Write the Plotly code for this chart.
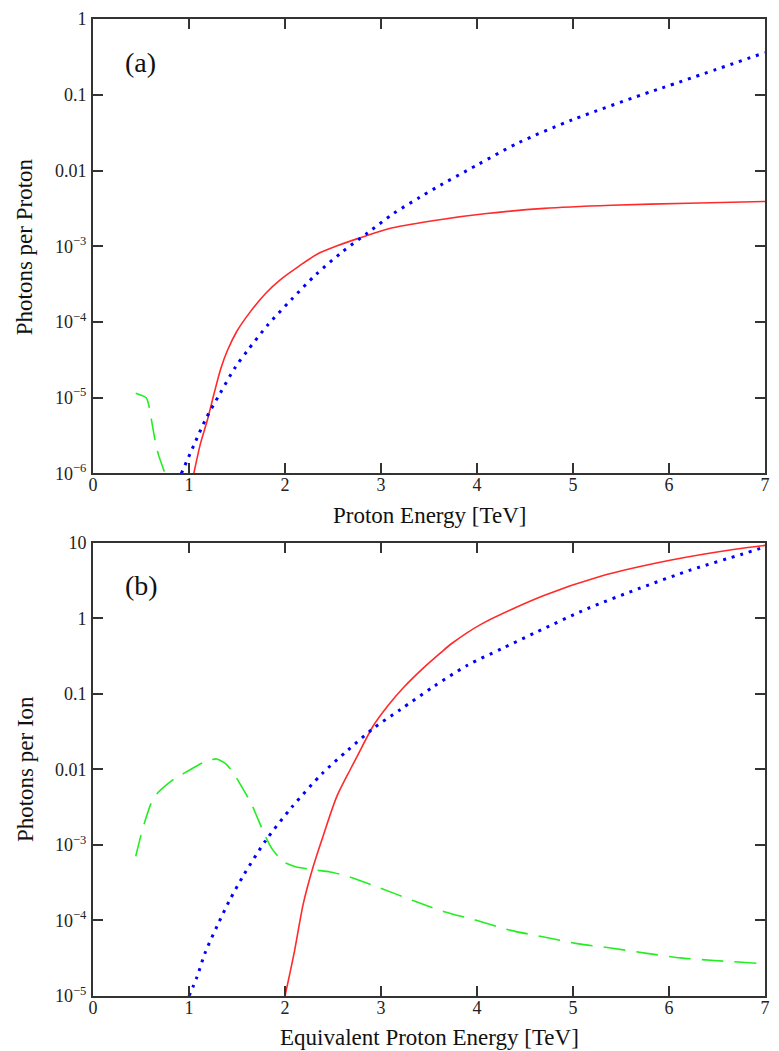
import plotly.graph_objects as go

# ---------------- Panel (a): photons per proton ----------------
a_red_x = [1.05, 1.12, 1.19, 1.26, 1.33, 1.40, 1.50, 1.63, 1.80, 1.95, 2.15, 2.33, 2.55, 2.78,
           3.12, 3.61, 4.10, 4.70, 5.40, 6.20, 7.00]
a_red_y = [1.0e-6, 2.5e-6, 5.0e-6, 1.12e-5, 2.4e-5, 4.2e-5, 7.6e-5, 1.32e-4, 2.4e-4, 3.6e-4,
           5.5e-4, 7.8e-4, 1.02e-3, 1.29e-3, 1.75e-3, 2.24e-3, 2.7e-3, 3.16e-3, 3.47e-3, 3.7e-3, 3.9e-3]

a_blue_x = [0.92, 1.05, 1.17, 1.32, 1.48, 1.61, 1.82, 2.07, 2.32, 2.59, 2.86, 3.13, 3.40, 3.58,
            4.00, 4.44, 5.00, 5.83, 6.00, 7.00]
a_blue_y = [1.0e-6, 2.35e-6, 5.1e-6, 1.12e-5, 2.5e-5, 4.2e-5, 9.1e-5, 2.0e-4, 4.2e-4, 8.3e-4,
            1.5e-3, 2.7e-3, 4.4e-3, 6.0e-3, 1.18e-2, 2.35e-2, 4.7e-2, 1.12e-1, 1.32e-1, 3.6e-1]

a_green_x = [0.445, 0.555, 0.59, 0.61, 0.65, 0.68, 0.75]
a_green_y = [1.15e-5, 1.0e-5, 7.1e-6, 5.0e-6, 2.6e-6, 1.8e-6, 1.0e-6]

# ---------------- Panel (b): photons per ion ----------------
b_red_x = [2.00, 2.10, 2.19, 2.29, 2.40, 2.54, 2.68, 2.75, 2.92, 3.08, 3.23, 3.44, 3.62, 3.74,
           4.05, 4.69, 5.28, 6.01, 6.67, 7.00]
b_red_y = [1.0e-5, 4.0e-5, 1.66e-4, 5.0e-4, 1.35e-3, 4.4e-3, 1.0e-2, 1.48e-2, 3.8e-2, 7.2e-2,
           0.12, 0.22, 0.35, 0.47, 0.85, 2.0, 3.6, 5.9, 8.2, 9.3]

b_blue_x = [1.00, 1.08, 1.17, 1.29, 1.42, 1.57, 1.80, 2.07, 2.39, 2.65, 2.92, 3.20, 3.55, 3.90,
            4.26, 4.62, 5.15, 5.69, 6.22, 6.76, 7.00]
b_blue_y = [1.0e-5, 1.74e-5, 3.8e-5, 8.3e-5, 1.82e-4, 4.0e-4, 1.15e-3, 3.16e-3, 8.9e-3, 1.78e-2,
            3.5e-2, 6.2e-2, 0.126, 0.24, 0.40, 0.66, 1.35, 2.5, 4.37, 7.1, 8.9]

b_green_x = [0.445, 0.50, 0.54, 0.61, 0.68, 0.85, 0.96, 1.16, 1.29, 1.39, 1.47, 1.53, 1.65, 1.79,
             1.86, 1.98, 2.10, 2.30, 2.47, 2.64, 2.99, 3.34, 3.65, 4.00, 4.35, 4.71, 5.06, 5.41,
             5.75, 6.12, 6.47, 6.95]
b_green_y = [7.1e-4, 1.35e-3, 2.04e-3, 3.7e-3, 5.0e-3, 7.6e-3, 9.1e-3, 1.26e-2, 1.38e-2, 1.17e-2,
             8.7e-3, 6.5e-3, 3.5e-3, 1.35e-3, 9.1e-4, 6.0e-4, 5.2e-4, 4.7e-4, 4.4e-4, 3.9e-4,
             2.7e-4, 1.82e-4, 1.32e-4, 1.0e-4, 7.4e-5, 6.0e-5, 4.9e-5, 4.3e-5, 3.7e-5, 3.2e-5,
             2.95e-5, 2.7e-5]

# ---------------- Tick labels / texts ----------------
x_ticks = [0, 1, 2, 3, 4, 5, 6, 7]
a_y_ticks = [1e-6, 1e-5, 1e-4, 1e-3, 1e-2, 1e-1, 1]
a_y_text = ["10<sup>−6</sup>", "10<sup>−5</sup>", "10<sup>−4</sup>", "10<sup>−3</sup>", "0.01", "0.1", "1"]
b_y_ticks = [1e-5, 1e-4, 1e-3, 1e-2, 1e-1, 1, 10]
b_y_text = ["10<sup>−5</sup>", "10<sup>−4</sup>", "10<sup>−3</sup>", "0.01", "0.1", "1", "10"]

a_xtitle = "Proton Energy [TeV]"
a_ytitle = "Photons per Proton"
b_xtitle = "Equivalent Proton Energy [TeV]"
b_ytitle = "Photons per Ion"

RED = "#ff2a2a"
BLUE = "#0000ff"
GREEN = "#22ee22"
SERIF = "Liberation Serif, Times New Roman, serif"

fig = go.Figure()


def add_set(rx, ry, bx, by, gx, gy, xa, ya):
    fig.add_trace(go.Scatter(x=gx, y=gy, mode="lines", xaxis=xa, yaxis=ya,
                             line=dict(color=GREEN, width=1.6, dash="22px,11px",
                                       shape="spline", smoothing=0.6)))
    fig.add_trace(go.Scatter(x=rx, y=ry, mode="lines", xaxis=xa, yaxis=ya,
                             line=dict(color=RED, width=1.6, shape="spline", smoothing=0.8)))
    fig.add_trace(go.Scatter(x=bx, y=by, mode="lines", xaxis=xa, yaxis=ya,
                             line=dict(color=BLUE, width=3, dash="3px,6px",
                                       shape="spline", smoothing=0.8)))


add_set(a_red_x, a_red_y, a_blue_x, a_blue_y, a_green_x, a_green_y, "x", "y")
add_set(b_red_x, b_red_y, b_blue_x, b_blue_y, b_green_x, b_green_y, "x2", "y2")

AX = "#333333"
common = dict(showline=True, linecolor=AX, linewidth=2, mirror="allticks", ticks="inside",
              ticklen=10, tickwidth=2, tickcolor=AX, showgrid=False, zeroline=False,
              tickfont=dict(family=SERIF, size=18, color="#222222"))

W, H = 779, 1051
L, R, T, B = 93.3, 12.5, 9.3, 55.0
PW, PH = W - L - R, H - T - B


def py2paper(py):
    return (H - B - py) / PH


def px2paper(px):
    return (px - L) / PW


fig.update_layout(
    width=W, height=H,
    margin=dict(l=L, r=R, t=T, b=B, pad=0),
    plot_bgcolor="white", paper_bgcolor="white", showlegend=False,
    xaxis=dict(domain=[0, 1], range=[0, 7], anchor="y", tickvals=x_ticks,
               ticklabelstandoff=-6, **common),
    yaxis=dict(domain=[py2paper(468.3), 1], type="log", range=[-6, 0], anchor="x",
               tickvals=a_y_ticks, ticktext=a_y_text, ticklabelstandoff=1, **common),
    xaxis2=dict(domain=[0, 1], range=[0, 7], anchor="y2", tickvals=x_ticks,
                ticklabelstandoff=-6, **common),
    yaxis2=dict(domain=[0, py2paper(538.5)], type="log", range=[-5, 1], anchor="x2",
                tickvals=b_y_ticks, ticktext=b_y_text, ticklabelstandoff=1, **common),
)

ann_font = dict(family=SERIF, size=23, color="#111111")
lab_font = dict(family=SERIF, size=28, color="#111111")
annotations = [
    dict(text="(a)", x=px2paper(141), y=py2paper(53), font=lab_font),
    dict(text="(b)", x=px2paper(142), y=py2paper(581), font=lab_font),
    dict(text=a_xtitle, x=px2paper(430), y=py2paper(511), font=ann_font),
    dict(text=b_xtitle, x=px2paper(430), y=py2paper(1038), font=ann_font),
    dict(text=a_ytitle, x=px2paper(25), y=py2paper(239), font=ann_font, textangle=-90),
    dict(text=b_ytitle, x=px2paper(25), y=py2paper(767), font=ann_font, textangle=-90),
]
for a in annotations:
    a.update(xref="paper", yref="paper", showarrow=False, xanchor="center", yanchor="middle")
fig.update_layout(annotations=annotations)

fig.write_html("out.html")
